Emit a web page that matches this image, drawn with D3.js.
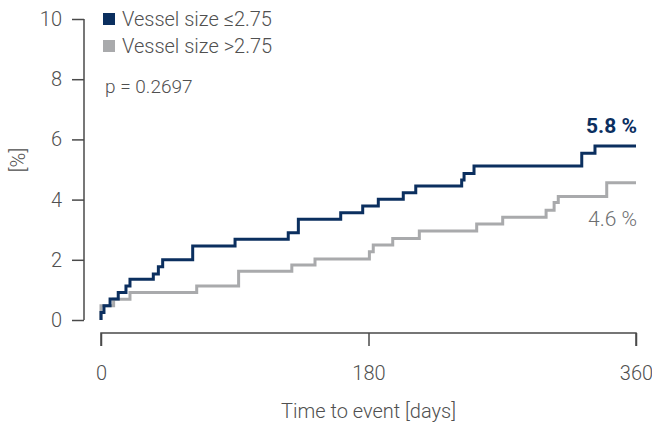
<!DOCTYPE html>
<html><head><meta charset="utf-8">
<script src="https://cdn.jsdelivr.net/npm/d3@7"></script>
<style>body{margin:0;background:#fff}svg{display:block}text{font-family:Roboto,"Noto Sans",sans-serif;}</style>
</head><body>
<svg id="c" width="652" height="423"></svg>
<script>
const seriesNames = ["Vessel size \u22642.75", "Vessel size >2.75"];
const seriesColors = ["#0b2f5f", "#a9aaac"];
const smallVessel = [[0,0],[0,0.25],[2,0.47],[6.1,0.70],[11.6,0.91],[16.8,1.13],[19.5,1.35],[35.2,1.53],[38.6,1.77],[41.5,2.0],[61.7,2.46],[90.2,2.68],[126,2.90],[132.8,3.35],[161.3,3.56],[176.1,3.79],[186.6,4.01],[203.4,4.23],[211.8,4.45],[242.7,4.65],[244.3,4.87],[251,5.12],[323.5,5.54],[332.4,5.78],[360,5.78]];
const largeVessel = [[0,0],[0,0.47],[8.5,0.69],[19.5,0.91],[64.4,1.13],[92.6,1.62],[128.4,1.83],[144,2.03],[180.6,2.27],[183.2,2.49],[196.3,2.71],[214.2,2.96],[252.8,3.19],[270.3,3.41],[299.5,3.65],[304.9,3.90],[307.7,4.10],[340.3,4.56],[360,4.56]];
const xTicks = [0, 180, 360];
const yTicks = [0, 2, 4, 6, 8, 10];
const endLabels = ["5.8 %", "4.6 %"];
const pText = "p = 0.2697";

const svg = d3.select("#c");
const x = d3.scaleLinear().domain([0, 360]).range([101, 636]);
const y = d3.scaleLinear().domain([0, 10]).range([320, 19]);
const axisColor = "#4a4a4a", textColor = "#505050";
const fs = "20px";

// Y axis
const yAxis = svg.append("g").attr("transform", "translate(84,0)")
  .call(d3.axisLeft(y).tickValues(yTicks).tickSize(12).tickPadding(10));
yAxis.select(".domain").attr("d", `M0,${y(10)}V${y(0)}`).attr("stroke", axisColor).attr("stroke-width", 1.5);
yAxis.selectAll(".tick line").attr("stroke", axisColor).attr("stroke-width", 1.5);
yAxis.selectAll(".tick text").attr("fill", textColor).style("font-size", fs).style("font-family", "Roboto").style("font-weight", 300);

// X axis
const xAxis = svg.append("g").attr("transform", "translate(0,333)")
  .call(d3.axisBottom(x).tickValues(xTicks).tickSize(13).tickPadding(20));
xAxis.select(".domain").attr("d", `M${x(0)},13V0H${x(360)}V13`).attr("stroke", axisColor).attr("stroke-width", 1.5).attr("fill", "none");
xAxis.selectAll(".tick line").attr("stroke", axisColor).attr("stroke-width", 1.5);
xAxis.selectAll(".tick text").attr("fill", textColor).style("font-size", fs).style("font-family", "Roboto").style("font-weight", 300);

svg.append("text").attr("x", x(180)).attr("y", 418).attr("text-anchor", "middle")
  .attr("fill", textColor).style("font-size", fs).style("font-weight", 300).text("Time to event [days]");
svg.append("text").attr("transform", "translate(25,160) rotate(-90)").attr("text-anchor", "middle")
  .attr("fill", textColor).style("font-size", fs).style("font-weight", 300).text("[%]");

// Curves
const line = d3.line().x(d => x(d[0])).y(d => y(d[1])).curve(d3.curveStepAfter);
[largeVessel, smallVessel].forEach((s, i) => {
  const ci = i === 0 ? 1 : 0;
  svg.append("path").datum(s).attr("d", line).attr("fill", "none")
    .attr("stroke", seriesColors[ci]).attr("stroke-width", 3).attr("stroke-linejoin", "miter");
});

// End labels
svg.append("text").attr("x", 637).attr("y", y(5.78) - 13).attr("text-anchor", "end")
  .attr("fill", seriesColors[0]).style("font-size", "21px").style("font-weight", 700).text(endLabels[0]);
svg.append("text").attr("x", 637).attr("y", y(4.56) + 43).attr("text-anchor", "end")
  .attr("fill", "#6d6e70").style("font-size", "21px").style("font-weight", 300).text(endLabels[1]);

// Legend
seriesNames.forEach((n, i) => {
  const g = svg.append("g").attr("transform", `translate(103,${13 + i * 27})`);
  g.append("rect").attr("width", 12).attr("height", 12).attr("fill", seriesColors[i]);
  g.append("text").attr("x", 19).attr("y", 13).attr("fill", textColor)
    .style("font-size", fs).style("font-weight", 300).text(n);
});
svg.append("text").attr("x", 105).attr("y", 93).attr("fill", textColor)
  .style("font-size", "19px").style("font-weight", 300).text(pText);
</script>
</body></html>
